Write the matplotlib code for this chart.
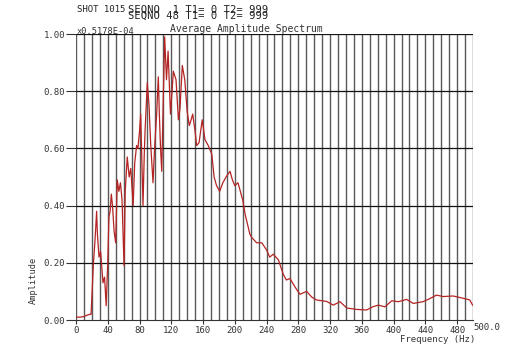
import numpy as np
import matplotlib
matplotlib.use("Agg")
import matplotlib.pyplot as plt

# ---- data ----
freq = [0, 5, 10, 15, 18, 19, 20, 22, 24, 26, 27, 29, 31, 34, 36, 38, 40,
        41.5, 43, 44.5, 46, 48, 50, 52, 54, 56, 58, 60.5, 62, 64.6, 67, 69,
        72, 74, 76.4, 78, 80, 81.5, 84.4, 86, 87, 89.8, 92, 94, 97, 99,
        101.6, 103.7, 105, 106.5, 108, 110, 111.7, 114, 116, 119, 121, 122.6,
        126, 129, 131, 133.9, 137, 140, 142.7, 145, 147, 150, 152, 155, 159,
        162.5, 166.6, 171, 174, 177, 181, 185, 189, 194, 197, 200, 204, 210,
        213, 219, 221, 227.5, 234, 240, 244, 248.5, 255, 261, 265, 269.5,
        276, 282, 290.5, 297, 303, 315.7, 324, 332.5, 341, 353.5, 366, 374.5,
        381, 389, 397.6, 406, 416.4, 424.8, 437, 443.6, 454, 462.4, 475,
        487.6, 496, 499.5]
amp = [0.01, 0.01, 0.012, 0.018, 0.02, 0.02, 0.08, 0.2, 0.28, 0.38, 0.3,
       0.22, 0.24, 0.13, 0.15, 0.05, 0.2, 0.36, 0.38, 0.44, 0.4, 0.31, 0.27,
       0.49, 0.45, 0.48, 0.42, 0.19, 0.45, 0.57, 0.5, 0.53, 0.40, 0.55, 0.61,
       0.6, 0.66, 0.72, 0.40, 0.58, 0.66, 0.83, 0.75, 0.62, 0.48, 0.6, 0.72,
       0.85, 0.72, 0.6, 0.52, 0.78, 0.99, 0.84, 0.94, 0.72, 0.8, 0.87, 0.84,
       0.70, 0.74, 0.89, 0.84, 0.73, 0.68, 0.70, 0.72, 0.66, 0.61, 0.62,
       0.70, 0.63, 0.61, 0.58, 0.50, 0.47, 0.45, 0.48, 0.50, 0.52, 0.49,
       0.47, 0.48, 0.42, 0.37, 0.30, 0.29, 0.27, 0.27, 0.245, 0.22, 0.23,
       0.21, 0.16, 0.14, 0.145, 0.115, 0.09, 0.10, 0.08, 0.07, 0.065, 0.052,
       0.064, 0.042, 0.037, 0.035, 0.047, 0.052, 0.046, 0.067, 0.064, 0.072,
       0.058, 0.064, 0.072, 0.087, 0.082, 0.084, 0.076, 0.07, 0.052]

xticks = [0, 40, 80, 120, 160, 200, 240, 280, 320, 360, 400, 440, 480]
yticks = [0.0, 0.2, 0.4, 0.6, 0.8, 1.0]

mono = "DejaVu Sans Mono"
fs = 6.5
txt = "#333333"

fig = plt.figure(figsize=(5.12, 3.52), dpi=100)
ax = fig.add_axes([0.1484, 0.0909, 0.7754, 0.8125])

# grid: vertical every 10 Hz, horizontal every 0.2
for f in np.arange(0, 501, 10):
    ax.axvline(f, color="#595959", lw=1.0, zorder=1)
for y in yticks[1:]:
    ax.axhline(y, color="#111111", lw=0.9, zorder=1)

ax.plot(freq, amp, color="#b52424", lw=0.9, zorder=3)

ax.set_xlim(0, 500)
ax.set_ylim(0, 1.0)
for s in ["top", "right", "left"]:
    ax.spines[s].set_visible(False)
ax.spines["bottom"].set_color("#333333")

ax.set_xticks(xticks)
ax.set_xticklabels([str(t) for t in xticks], fontfamily=mono, fontsize=fs)
ax.set_yticks(yticks)
ax.set_yticklabels(["%.2f" % t for t in yticks], fontfamily=mono, fontsize=fs)
ax.tick_params(axis="y", length=7, width=0.8, colors=txt, pad=1)
ax.tick_params(axis="x", length=3, width=0.8, colors=txt, pad=1)

# extra label at the right end
ax.text(500, -0.012, "500.0", ha="left", va="top", fontfamily=mono,
        fontsize=fs, color=txt)

ax.text(0.817, -0.068, "Frequency (Hz)", transform=ax.transAxes, ha="left",
        va="center", fontfamily=mono, fontsize=fs, color=txt)
ax.text(-0.108, 0.14, "Amplitude", transform=ax.transAxes, rotation=90,
        ha="center", va="center", fontfamily=mono, fontsize=6.2, color=txt)

# scale factor and title just above the plot
ax.text(0.002, 1.01, "x0.5178E-04", transform=ax.transAxes, ha="left",
        va="center", fontfamily=mono, fontsize=6.2, color=txt)
ax.text(0.237, 1.018, "Average Amplitude Spectrum", transform=ax.transAxes,
        ha="left", va="center", fontfamily=mono, fontsize=7, color=txt)

# header lines (the two SEQNO lines overlap in the original too)
fig.text(77 / 512, 1 - 10 / 352, "SHOT 1015", ha="left", va="center",
         fontfamily=mono, fontsize=6.5, color="#222222")
fig.text(128 / 512, 1 - 10 / 352, "SEQNO  1 T1= 0 T2= 999", ha="left",
         va="center", fontfamily=mono, fontsize=7.6, color="#222222")
fig.text(128 / 512, 1 - 16 / 352, "SEQNO 48 T1= 0 T2= 999", ha="left",
         va="center", fontfamily=mono, fontsize=7.6, color="#222222")

fig.savefig("out.png", dpi=100)
